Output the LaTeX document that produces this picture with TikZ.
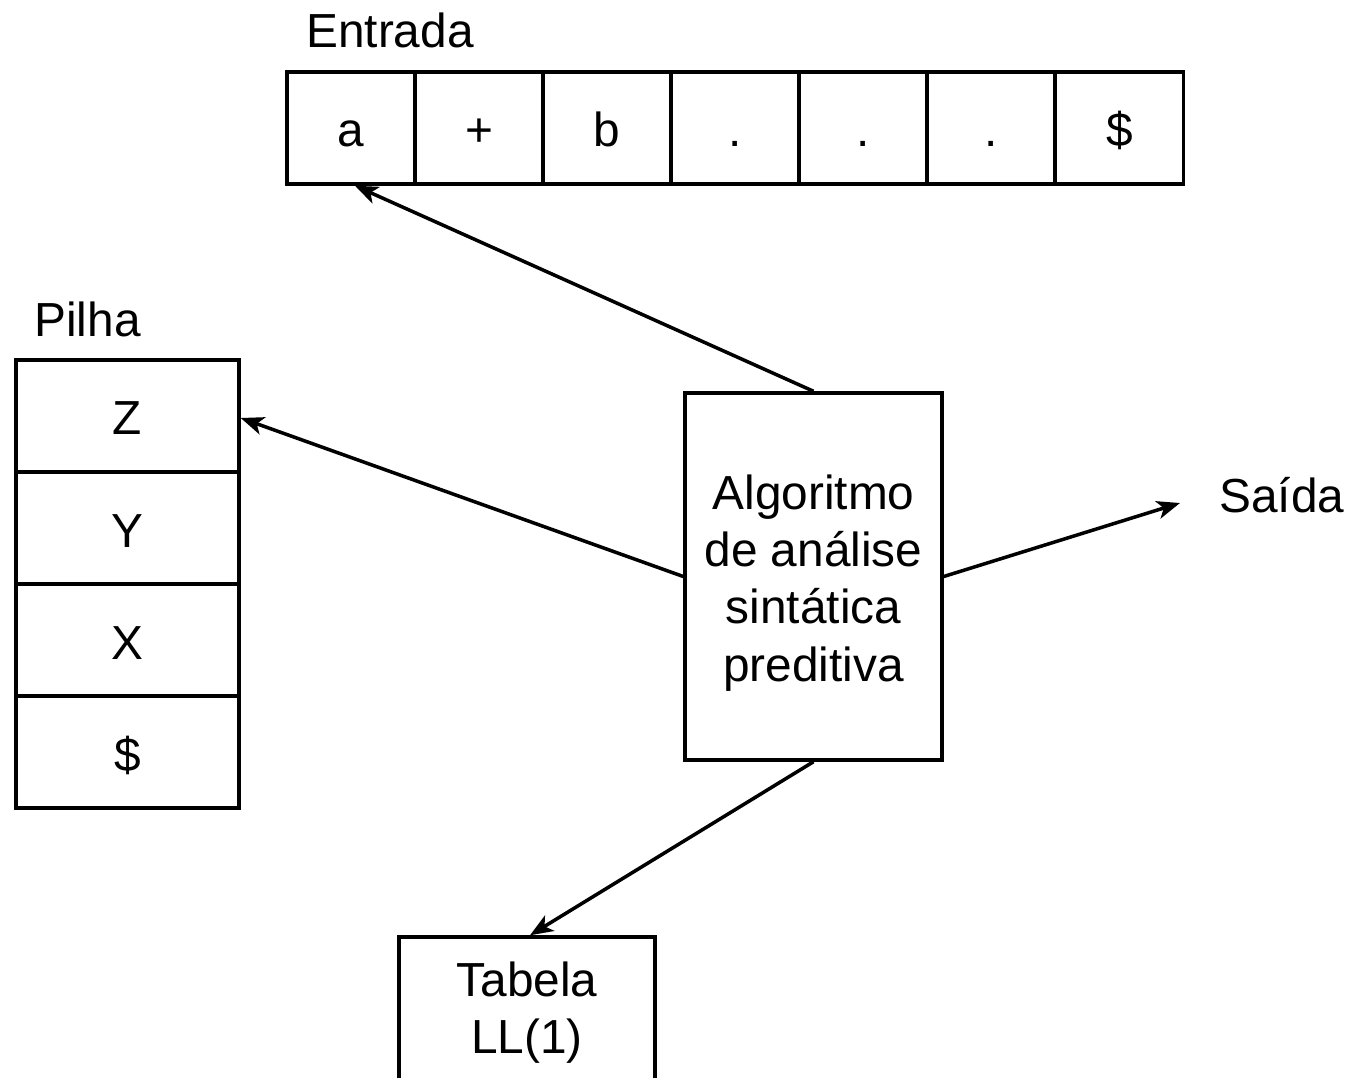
\documentclass[tikz,border=0pt]{standalone}
\usepackage{fontspec}
\setmainfont{Liberation Sans}
\usetikzlibrary{arrows.meta}
\begin{document}
\begin{tikzpicture}[x=0.02cm,y=-0.02cm,
  every node/.style={font=\fontsize{27.2pt}{32.5pt}\selectfont},
  cell/.style={draw,line width=2pt,minimum width=2.56cm,minimum height=2.24cm,inner sep=0pt,
    text height=0.76cm,text depth=0pt},
  stackcell/.style={cell,minimum width=4.46cm},
  box/.style={draw,line width=2pt,inner sep=0pt},
  label/.style={inner sep=0pt,anchor=base west},
  link/.style={line width=2pt,-{Stealth[length=0.46cm,width=0.36cm,inset=0.12cm]}}]
\clip (0,0) rectangle (1346,1078);
% input tape
\node[cell] (a)  at (351,128)    {a};
\node[cell] (p)  at (479,128)    {+};
\node[cell] (b)  at (607,128)    {b};
\node[cell] (d1) at (735,128)    {.};
\node[cell] (d2) at (863,128)    {.};
\node[cell] (d3) at (991,128)    {.};
\node[cell] (e)  at (1119.5,128) {\$};
\node[label] (entrada) at (306,48) {Entrada};
% stack
\node[stackcell] (z)  at (127.5,416) {Z};
\node[stackcell] (y)  at (127.5,528) {Y};
\node[stackcell] (xx) at (127.5,640) {X};
\node[stackcell] (sb) at (127.5,752) {\$};
\node[label] (pilha) at (34,336) {Pilha};
% parser
\node[box,minimum width=5.14cm,minimum height=7.34cm] (alg) at (813.5,576.5) {};
\node[align=center,inner sep=0pt] (algtext) at (813.5,583)
  {Algoritmo\\de análise\\sintática\\preditiva};
% parsing table
\node[box,align=center,minimum width=5.12cm,minimum height=3.04cm] (tab) at (527,1013)
  {Tabela\\LL(1)};
% output
\node[label] (saida) at (1219,512) {Saída};
\coordinate (out) at (1180,503);
% connectors
\draw[link] (alg.north) -- ([xshift=0.08cm]a.south);
\draw[link] (alg.west) -- ([yshift=-0.04cm]z.east);
\draw[link] (alg.east) -- (out);
\draw[link] (alg.south) -- ([xshift=0.06cm]tab.north);
\end{tikzpicture}
\end{document}
